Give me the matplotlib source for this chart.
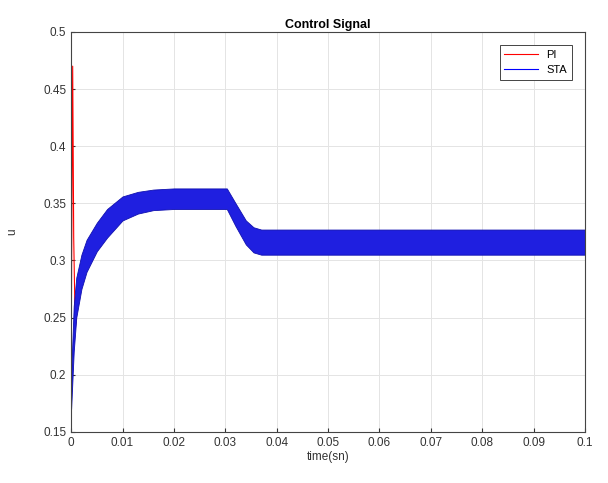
import matplotlib
matplotlib.use('Agg')
import matplotlib.pyplot as plt

# STA control signal envelope
t_env = [0, 0.0005, 0.001, 0.002, 0.003, 0.005, 0.007, 0.01, 0.013, 0.016,
         0.02, 0.025, 0.0303, 0.032, 0.034, 0.0355, 0.037, 0.04, 0.1]
sta_upper = [0.20, 0.26, 0.285, 0.305, 0.318, 0.333, 0.345, 0.356, 0.360, 0.362,
             0.363, 0.363, 0.363, 0.350, 0.335, 0.329, 0.327, 0.327, 0.327]
sta_lower = [0.17, 0.22, 0.25, 0.275, 0.29, 0.308, 0.32, 0.335, 0.341, 0.344,
             0.345, 0.345, 0.345, 0.330, 0.314, 0.307, 0.305, 0.305, 0.305]

# PI control signal (mostly hidden under STA)
t_pi = [0, 0.0001, 0.0003, 0.0005, 0.0008, 0.0012, 0.002, 0.005, 0.01, 0.02,
        0.03, 0.035, 0.1]
u_pi = [0.20, 0.30, 0.47, 0.32, 0.24, 0.26, 0.29, 0.32, 0.345, 0.354,
        0.354, 0.316, 0.316]

plt.rcParams['font.family'] = ['Liberation Sans', 'DejaVu Sans']
fig = plt.figure(figsize=(6.08, 4.83), dpi=100)
ax = fig.add_axes([0.117, 0.106, 0.845, 0.828])
ax.set_axisbelow(True)

ax.plot(t_pi, u_pi, color='red', lw=0.8, label='PI', zorder=1)
ax.fill_between(t_env, sta_lower, sta_upper, color='#1f1fe0', lw=0.6,
                edgecolor='#1010b0', zorder=2)
ax.plot([], [], color='blue', lw=0.8, label='STA')

ax.set_xlim(0, 0.1)
ax.set_ylim(0.15, 0.5)
ax.set_xticks([0, 0.01, 0.02, 0.03, 0.04, 0.05, 0.06, 0.07, 0.08, 0.09, 0.1])
ax.set_xticklabels(['0', '0.01', '0.02', '0.03', '0.04', '0.05', '0.06',
                    '0.07', '0.08', '0.09', '0.1'])
ax.set_yticks([0.15, 0.2, 0.25, 0.3, 0.35, 0.4, 0.45, 0.5])
ax.set_yticklabels(['0.15', '0.2', '0.25', '0.3', '0.35', '0.4', '0.45', '0.5'])
ax.tick_params(direction='in', labelsize=8.5, colors='#333333', length=3)
ax.grid(True, color='#e4e4e4', lw=0.7)
for s in ax.spines.values():
    s.set_color('#444444')
    s.set_linewidth(0.8)

ax.set_title('Control Signal', fontsize=9, fontweight='bold', pad=3)
ax.set_xlabel('time(sn)', fontsize=8.5, color='#333333', labelpad=2)
ax.set_ylabel('u', fontsize=8.5, color='#333333', labelpad=18)

leg = ax.legend(loc='upper right', fontsize=8, fancybox=False, framealpha=1,
                edgecolor='#444444', handlelength=3, borderaxespad=1.2)
leg.get_frame().set_linewidth(0.7)

fig.savefig('out.png', dpi=100)
